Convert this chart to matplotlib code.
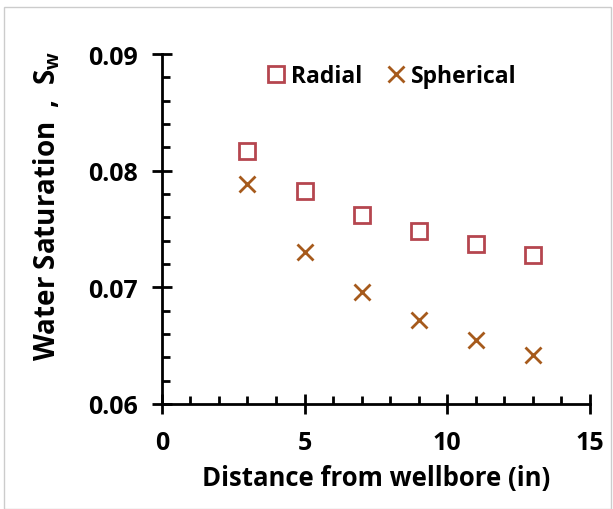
import numpy as np
import matplotlib
matplotlib.use("Agg")
import matplotlib.pyplot as plt
from matplotlib.ticker import MultipleLocator

plt.rcParams['font.family'] = ['Open Sans', 'DejaVu Sans']
plt.rcParams['font.weight'] = 'bold'
plt.rcParams['mathtext.fontset'] = 'custom'
plt.rcParams['mathtext.rm'] = 'Open Sans:bold'
plt.rcParams['mathtext.it'] = 'Open Sans:bold'

# data
distance = [3, 5, 7, 9, 11, 13]
sw_radial = [0.0817, 0.0783, 0.0762, 0.0748, 0.0737, 0.0728]
sw_spherical = [0.0789, 0.0730, 0.0696, 0.0672, 0.0655, 0.0642]

radial_color = '#b5464f'
spherical_color = '#a65a1c'

fig = plt.figure(figsize=(6.13, 5.10), dpi=100)
ax = fig.add_axes([0.264, 0.206, 0.6985, 0.686])

ax.plot(distance, sw_radial, linestyle='none', marker='s', markersize=11,
        markerfacecolor='none', markeredgecolor=radial_color, markeredgewidth=2,
        label='Radial')
ax.plot(distance, sw_spherical, linestyle='none', marker='x', markersize=11,
        color=spherical_color, markeredgewidth=2, label='Spherical')

ax.set_xlim(0, 15)
ax.set_ylim(0.06, 0.09)
ax.xaxis.set_major_locator(MultipleLocator(5))
ax.xaxis.set_minor_locator(MultipleLocator(1))
ax.yaxis.set_minor_locator(MultipleLocator(0.002))
ax.set_yticks([0.06, 0.07, 0.08, 0.09])
ax.set_yticklabels(['0.06', '0.07', '0.08', '0.09'])

for s in ['top', 'right']:
    ax.spines[s].set_visible(False)
for s in ['left', 'bottom']:
    ax.spines[s].set_linewidth(2)

ax.tick_params(which='major', direction='inout', length=14, width=2, labelsize=18)
ax.tick_params(axis='x', which='major', pad=12)
ax.tick_params(axis='y', which='major', pad=10)
ax.tick_params(which='minor', direction='in', length=6, width=2)

ax.set_xlabel('Distance from wellbore (in)', fontsize=18.5, fontweight='bold', labelpad=6)
ax.set_ylabel('Water Saturation  ,  $\\mathrm{S_w}$', fontsize=20, fontweight='bold')
ax.yaxis.set_label_coords(-0.232, 0.57)

ax.legend(loc='upper center', bbox_to_anchor=(0.53, 1.03), ncol=2, frameon=False,
          fontsize=16.5, handletextpad=0.0, columnspacing=0.8, markerscale=1.0,
          handlelength=1.3)

fig.patches.append(plt.Rectangle((0.007, 0.0), 0.99, 0.985, transform=fig.transFigure,
                                 fill=False, edgecolor='#cccccc', linewidth=1))

fig.savefig('out.png', dpi=100)
